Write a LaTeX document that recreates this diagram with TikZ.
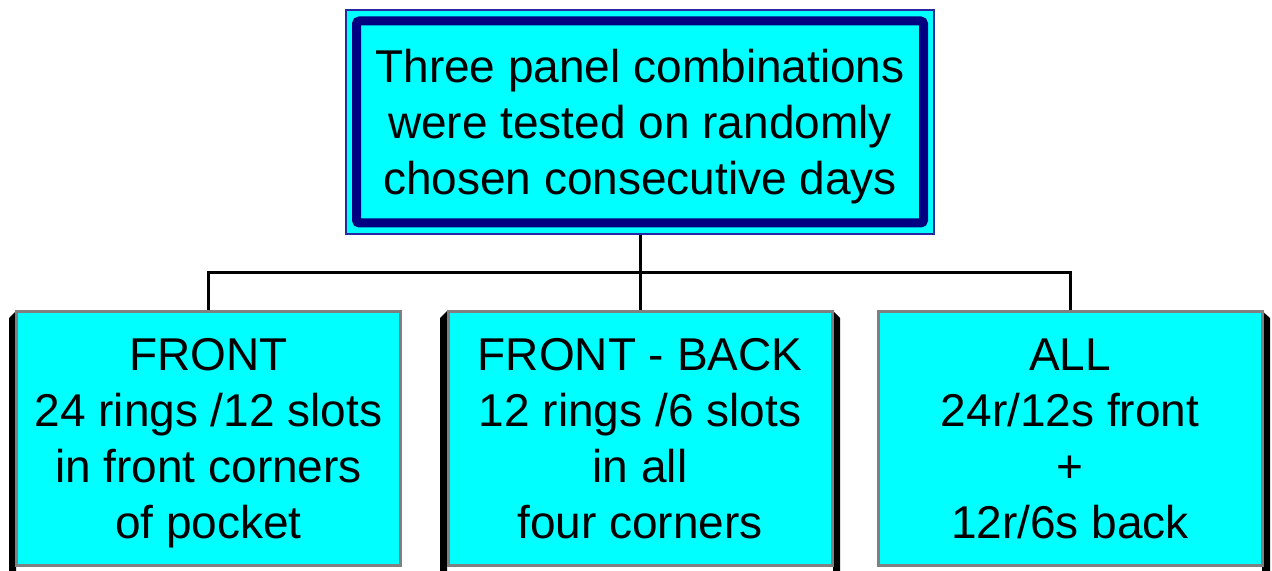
\documentclass[tikz,border=0pt]{standalone}
\usepackage{fontspec}
\setmainfont{Liberation Sans}
\usetikzlibrary{fit,backgrounds}
\definecolor{boxcyan}{RGB}{0,255,255}
\definecolor{framenavy}{RGB}{0,0,128}
\definecolor{frameblue}{RGB}{40,40,160}
\definecolor{framegray}{RGB}{128,128,128}
\tikzset{
  headbox/.style={draw=framenavy, line width=4.5pt, fill=boxcyan, rounded corners=1.5pt,
    minimum width=283.5pt, minimum height=101pt, inner sep=0pt, align=center,
    text depth=0pt, font=\fontsize{23}{28}\selectfont},
  headframe/.style={draw=frameblue, line width=1pt, fill=boxcyan, inner sep=3.2pt},
  casebox/.style={draw=framegray, line width=1.5pt, fill=boxcyan,
    minimum width=192pt, minimum height=127pt, inner sep=0pt, align=center,
    text depth=0pt, font=\fontsize{23}{28}\selectfont},
  link/.style={line width=1.5pt},
  drop/.style={fill=black}
}
\begin{document}
\begin{tikzpicture}[x=0.5pt,y=-0.5pt]
  \useasboundingbox (0,0) rectangle (1272,571);
  % side shadows of the three boxes
  \fill[drop] (16,311) -- (9,318) -- (9,571) -- (16,571) -- cycle;
  \fill[drop] (447,311) -- (440,318) -- (440,571) -- (447,571) -- cycle;
  \fill[drop] (833,311) -- (840,318) -- (840,571) -- (833,571) -- cycle;
  \fill[drop] (1262,311) -- (1270,318) -- (1270,571) -- (1262,571) -- cycle;

  \node[headbox] (title) at (640,122) {Three panel combinations\\were tested on randomly\\chosen consecutive days};
  \begin{scope}[on background layer]
    \node[headframe, fit=(title)] (titleframe) {};
  \end{scope}

  \node[casebox] (front) at (208.5,438.5) {FRONT\\24 rings /12 slots\\in front corners\\of pocket};
  \node[casebox] (frontback) at (640,438.5) {FRONT - BACK\\12 rings /6 slots\\in all\\four corners};
  \node[casebox] (all) at (1070,438.5) {ALL\\24r/12s front\\+\\12r/6s back};

  \coordinate (split) at (640,273); % branch point
  \draw[link] (titleframe.south) -- (split);
  \draw[link] (front.north) |- (split) -| (all.north);
  \draw[link] (split) -- (frontback.north);
\end{tikzpicture}
\end{document}
